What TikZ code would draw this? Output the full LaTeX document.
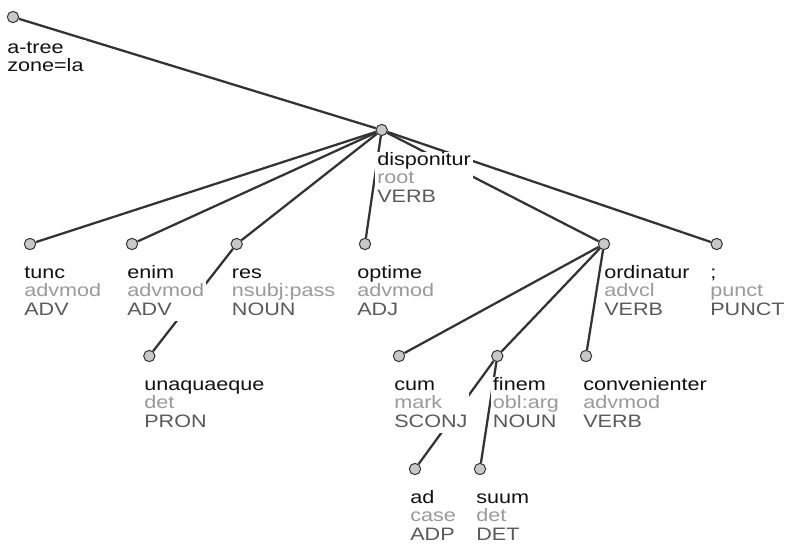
\documentclass[tikz,border=0pt]{standalone}
\usepackage{fontspec}
\setmainfont{Liberation Sans}
\usetikzlibrary{backgrounds}

\definecolor{edgec}{HTML}{333333}
\definecolor{dotc}{HTML}{C8C8C8}
\definecolor{wordc}{HTML}{111111}
\definecolor{relc}{HTML}{9A9A9A}
\definecolor{posc}{HTML}{5A5A5A}

\newcommand{\lbl}[3]{\scalebox{1.2}[1]{\begin{tabular}[t]{@{}l@{}}\color{wordc}#1\\\color{relc}#2\\\color{posc}#3\end{tabular}}}

\tikzset{
    tok/.style={circle, draw=edgec, fill=dotc, line width=0.75pt, minimum size=8.5pt, inner sep=0pt},
    lbl/.style={anchor=base west, fill=white, inner xsep=1.5pt, inner ysep=0pt, font=\fontsize{13.5}{14}\selectfont},
    dep/.style={draw=edgec, line width=1.7pt}
}

\begin{document}
\begin{tikzpicture}[x=0.75pt, y=-0.75pt]
    \useasboundingbox (0,0) rectangle (785,544);

    % tree root
    \node[tok] (top) at (13,17) {};
    \node[lbl] (top-l) at (5,53) {\scalebox{1.2}[1]{\begin{tabular}[t]{@{}l@{}}\color{wordc}a-tree\\\color{wordc}zone=la\end{tabular}}};

    \node[tok] (disp) at (381.7,130) {};
    \node[lbl] (disp-l) at (375,165) {\lbl{disponitur}{root}{VERB}};

    \node[tok] (tunc) at (30,244) {};
    \node[lbl] (tunc-l) at (22,278) {\lbl{tunc}{advmod}{ADV}};
    \node[tok] (enim) at (132,244) {};
    \node[lbl] (enim-l) at (125,278) {\lbl{enim}{advmod}{ADV}};
    \node[tok] (res) at (236.7,244) {};
    \node[lbl] (res-l) at (229.7,278) {\lbl{res}{nsubj:pass}{NOUN}};
    \node[tok] (optime) at (365,244) {};
    \node[lbl] (optime-l) at (355,278) {\lbl{optime}{advmod}{ADJ}};
    \node[tok] (ordin) at (604,244) {};
    \node[lbl] (ordin-l) at (602,278) {\lbl{ordinatur}{advcl}{VERB}};
    \node[tok] (punct) at (716.7,244) {};
    \node[lbl] (punct-l) at (708,278) {\lbl{;}{punct}{PUNCT}};

    \node[tok] (unaq) at (149.3,356) {};
    \node[lbl] (unaq-l) at (142,390) {\lbl{unaquaeque}{det}{PRON}};
    \node[tok] (cum) at (399,356) {};
    \node[lbl] (cum-l) at (392,390) {\lbl{cum}{mark}{SCONJ}};
    \node[tok] (finem) at (497.3,356) {};
    \node[lbl] (finem-l) at (490.7,390) {\lbl{finem}{obl:arg}{NOUN}};
    \node[tok] (conv) at (586,356) {};
    \node[lbl] (conv-l) at (581,390) {\lbl{convenienter}{advmod}{VERB}};

    \node[tok] (ad) at (415,469) {};
    \node[lbl] (ad-l) at (408,503) {\lbl{ad}{case}{ADP}};
    \node[tok] (suum) at (480,469) {};
    \node[lbl] (suum-l) at (474,503) {\lbl{suum}{det}{DET}};

    \begin{pgfonlayer}{background}
    \draw[dep] (top) -- (disp);
    \draw[dep] (disp) -- (tunc);
    \draw[dep] (disp) -- (enim);
    \draw[dep] (disp) -- (res);
    \draw[dep] (disp) -- (optime);
    \draw[dep] (disp) -- (ordin);
    \draw[dep] (disp) -- (punct);
    \draw[dep] (res) -- (unaq);
    \draw[dep] (ordin) -- (cum);
    \draw[dep] (ordin) -- (finem);
    \draw[dep] (ordin) -- (conv);
    \draw[dep] (finem) -- (ad);
    \draw[dep] (finem) -- (suum);
    \end{pgfonlayer}
\end{tikzpicture}
\end{document}
